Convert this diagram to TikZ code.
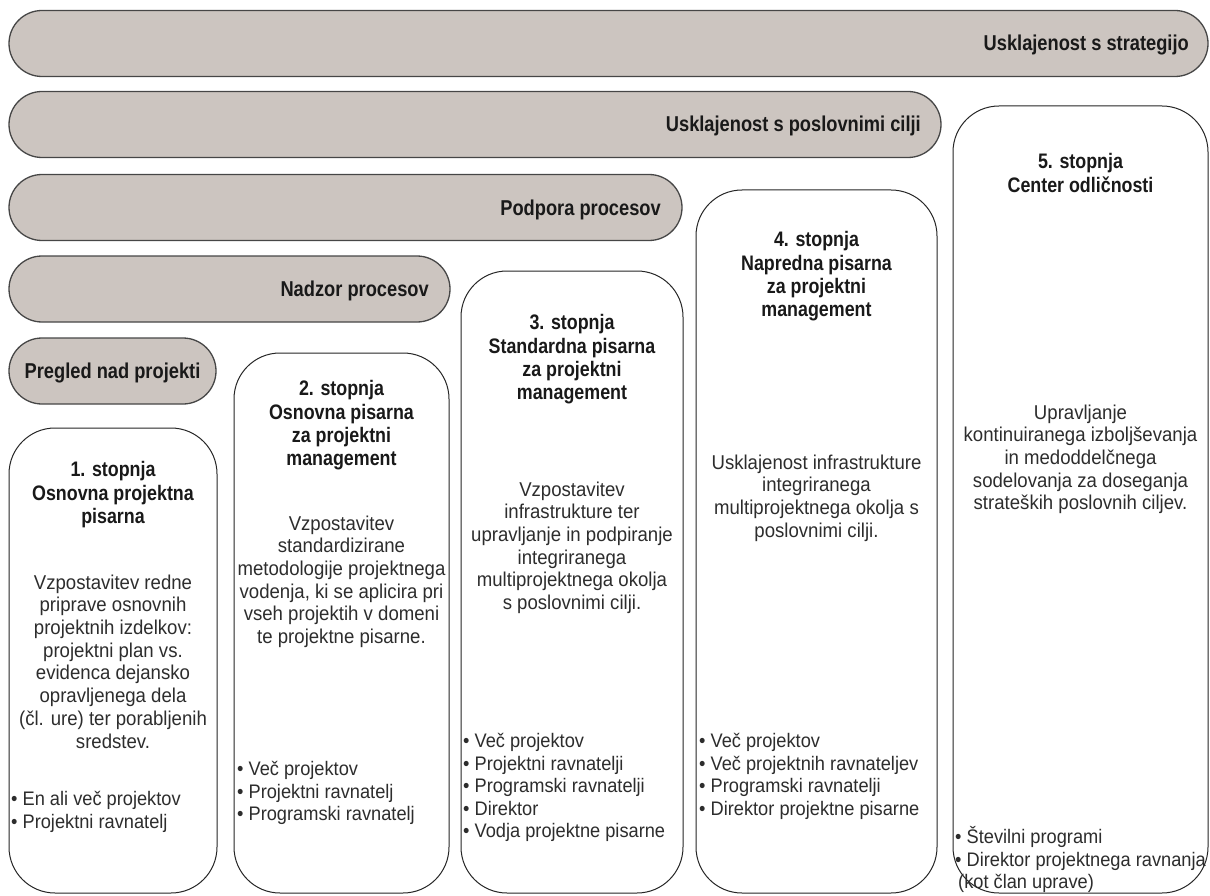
\documentclass[tikz,border=0pt]{standalone}
\usepackage{fontspec}
\setmainfont{Liberation Sans}
\newfontfamily\bodyf{Liberation Sans}[FakeStretch=0.93]
\newfontfamily\headf{Liberation Sans}[FakeStretch=0.85]
\usetikzlibrary{shapes.misc}
\definecolor{barfill}{RGB}{204,197,192}
\definecolor{barline}{RGB}{70,70,70}
\definecolor{txt}{RGB}{45,45,45}
\begin{document}
\begin{tikzpicture}[x=1pt,y=-1pt,
  bar/.style={rounded rectangle, draw=barline, line width=1.3pt, fill=barfill, minimum height=66pt, inner sep=0pt},
  col/.style={draw=black!85, line width=1pt, rounded corners=46pt, fill=white, inner sep=0pt},
  bartext/.style={font=\headf\bfseries\fontsize{21.5}{24}\selectfont, text=black!90, inner sep=0pt},
  head/.style={font=\headf\bfseries\fontsize{21}{23.3}\selectfont, align=center, anchor=north, inner sep=0pt, text=black!90},
  body/.style={font=\bodyf\fontsize{20}{22.7}\selectfont, align=center, anchor=north, inner sep=0pt, text=txt},
  bul/.style={font=\bodyf\fontsize{19.6}{22.5}\selectfont, align=left, anchor=north west, inner sep=0pt, text=txt}]
\useasboundingbox (0,0) rectangle (1210,896);

% bars
\node[bar, minimum width=1199pt] (b1) at (608.5,43.5) {};
\node[bar, minimum width=932pt] (b2) at (475,124.5) {};
\node[bar, minimum width=673pt] (b3) at (345.5,207.5) {};
\node[bar, minimum width=441pt] (b4) at (229.5,289) {};
\node[bar, minimum width=207pt] (b5) at (112.5,371) {};

\node[bartext, anchor=base east] (tb1) at (1189,51) {Usklajenost s strategijo};
\node[bartext, anchor=base east] (tb2) at (921,132) {Usklajenost s poslovnimi cilji};
\node[bartext, anchor=base east] (tb3) at (661,215) {Podpora procesov};
\node[bartext, anchor=base east] (tb4) at (429,296.5) {Nadzor procesov};
\node[bartext, anchor=base] (tb5) at (112.5,378.5) {Pregled nad projekti};

% columns
\node[col, minimum width=208pt, minimum height=465pt] (c1) at (113,660.5) {};
\node[col, minimum width=215pt, minimum height=540pt] (c2) at (341.5,623) {};
\node[col, minimum width=222pt, minimum height=622pt] (c3) at (572,582) {};
\node[col, minimum width=241pt, minimum height=703pt] (c4) at (816.5,541.5) {};
\node[col, minimum width=255pt, minimum height=787pt] (c5) at (1080.5,499.5) {};

% column 1
\node[head] (h1) at (113,461.5) {1. stopnja\\Osnovna projektna\\pisarna};
\node[body] (d1) at (113,574.5) {Vzpostavitev redne\\priprave osnovnih\\projektnih izdelkov:\\projektni plan vs.\\evidenca dejansko\\opravljenega dela\\(čl. ure) ter porabljenih\\sredstev.};
\node[bul] (l1) at (11,791.5) {• En ali več projektov\\• Projektni ravnatelj};

% column 2
\node[head] (h2) at (341.5,380.5) {2. stopnja\\Osnovna pisarna\\za projektni\\management};
\node[body] (d2) at (341.5,515.5) {Vzpostavitev\\standardizirane\\metodologije projektnega\\vodenja, ki se aplicira pri\\vseh projektih v domeni\\te projektne pisarne.};
\node[bul] (l2) at (237,761.5) {• Več projektov\\• Projektni ravnatelj\\• Programski ravnatelj};

% column 3
\node[head] (h3) at (572,314.5) {3. stopnja\\Standardna pisarna\\za projektni\\management};
\node[body] (d3) at (572,481.5) {Vzpostavitev\\infrastrukture ter\\upravljanje in podpiranje\\integriranega\\multiprojektnega okolja\\s poslovnimi cilji.};
\node[bul] (l3) at (463,733.5) {• Več projektov\\• Projektni ravnatelji\\• Programski ravnatelji\\• Direktor\\• Vodja projektne pisarne};

% column 4
\node[head] (h4) at (816.5,231.5) {4. stopnja\\Napredna pisarna\\za projektni\\management};
\node[body] (d4) at (816.5,454.5) {Usklajenost infrastrukture\\integriranega\\multiprojektnega okolja s\\poslovnimi cilji.};
\node[bul] (l4) at (699,733.5) {• Več projektov\\• Več projektnih ravnateljev\\• Programski ravnatelji\\• Direktor projektne pisarne};

% column 5
\node[head] (h5) at (1080.5,153.5) {5. stopnja\\Center odličnosti};
\node[body] (d5) at (1080.5,404.5) {Upravljanje\\kontinuiranega izboljševanja\\in medoddelčnega\\sodelovanja za doseganja\\strateških poslovnih ciljev.};
\node[bul] (l5) at (955,826.5) {• Številni programi\\• Direktor projektnega ravnanja\\\hspace{3pt}(kot član uprave)};
\end{tikzpicture}
\end{document}
